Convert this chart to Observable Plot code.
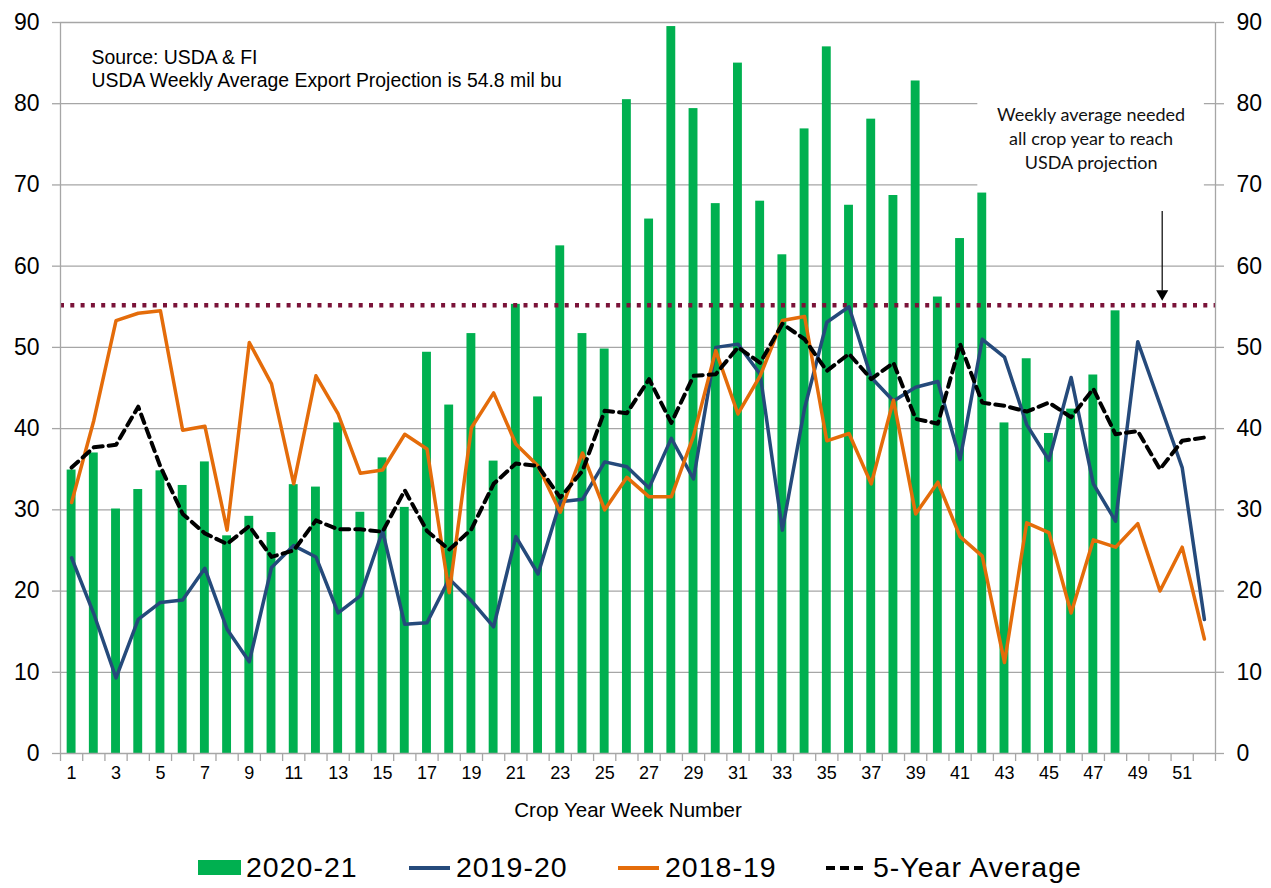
<!DOCTYPE html>
<html>
<head>
<meta charset="utf-8">
<script src="https://cdn.jsdelivr.net/npm/d3@7"></script>
<script src="https://cdn.jsdelivr.net/npm/@observablehq/plot@0.6"></script>
<style>
  body { margin: 0; background: #fff; font-family: "Liberation Sans", Arial, sans-serif; overflow: hidden; }
  #chart svg { display: block; }
  #legend { position: relative; height: 43px; width: 1271px; font-size: 28.5px; line-height: 1.1; letter-spacing: 1px; color: #000; }
  .item { position: absolute; top: 3px; height: 40px; display: flex; align-items: center; white-space: nowrap; }
  .item svg { display: block; margin-right: 5px; }
</style>
</head>
<body>
<div id="chart"></div>
<div id="legend"></div>
<script>
// ---- data ----
const weeks = d3.range(1, 53);
const exports2020_21 = [34.9, 37.0, 30.1, 32.5, 34.8, 33.0, 35.9, 26.8, 29.2, 27.2,
  33.1, 32.8, 40.7, 29.7, 36.4, 30.3, 49.4, 42.9, 51.7, 36.0,
  55.3, 43.9, 62.5, 51.7, 49.8, 80.5, 65.8, 89.5, 79.4, 67.7,
  85.0, 68.0, 61.4, 76.9, 87.0, 67.5, 78.1, 68.7, 82.8, 56.2,
  63.4, 69.0, 40.7, 48.6, 39.4, 42.4, 46.6, 54.5];
const exports2019_20 = [24.1, 17.2, 9.3, 16.5, 18.6, 18.9, 22.8, 15.3, 11.3, 22.9,
  25.6, 24.2, 17.3, 19.4, 27.4, 15.9, 16.1, 21.5, 18.8, 15.6,
  26.7, 22.1, 31.0, 31.3, 35.9, 35.3, 32.7, 38.8, 33.8, 50.0,
  50.4, 46.7, 27.5, 42.5, 53.1, 55.0, 46.3, 43.4, 45.1, 45.8,
  36.2, 51.0, 48.8, 40.5, 36.1, 46.3, 33.2, 28.6, 50.7, 43.0,
  35.2, 16.5];
const exports2018_19 = [30.9, 41.0, 53.3, 54.2, 54.5, 39.8, 40.3, 27.5, 50.6, 45.5,
  33.2, 46.5, 41.8, 34.5, 34.9, 39.3, 37.5, 19.8, 40.1, 44.4,
  38.1, 35.4, 29.7, 37.0, 30.0, 34.0, 31.6, 31.6, 39.1, 49.6,
  41.8, 46.5, 53.3, 53.8, 38.5, 39.4, 33.2, 43.5, 29.5, 33.4,
  26.7, 24.3, 11.2, 28.4, 27.2, 17.3, 26.3, 25.4, 28.3, 20.0,
  25.4, 14.1];
const fiveYearAvg = [35.2, 37.7, 38.0, 42.7, 35.3, 29.5, 27.1, 25.8, 28.0, 24.2,
  25.0, 28.7, 27.6, 27.6, 27.3, 32.4, 27.4, 25.1, 27.6, 33.2,
  35.7, 35.4, 31.5, 34.8, 42.2, 41.9, 46.1, 40.7, 46.5, 46.7,
  50.0, 48.1, 52.9, 51.0, 47.1, 49.2, 46.1, 48.1, 41.2, 40.6,
  50.4, 43.2, 42.8, 42.1, 43.2, 41.4, 44.9, 39.3, 39.7, 35.0,
  38.5, 38.9];
const usdaWeeklyNeeded = 55.2;
const yTicks = d3.range(0, 100, 10);
const weekTickLabels = d3.range(1, 53, 2);
const weekBoundaries = d3.range(0.5, 53, 1);
const sourceNote = "Source: USDA & FI\nUSDA Weekly Average Export Projection is 54.8 mil bu";
const neededNote = "Weekly average needed\nall crop year to reach\nUSDA projection";
const axisTitle = "Crop Year Week Number";
const seriesNames = ["2020-21", "2019-20", "2018-19", "5-Year Average"];

// ---- tables built from arrays ----
const bars = exports2020_21.map((v, i) => ({week: weeks[i], value: v}));
const rows = weeks.map((w, i) => ({week: w, y1920: exports2019_20[i], y1819: exports2018_19[i], avg: fiveYearAvg[i]}));
const noteBox = [{x1: 41.8, x2: 52.0, y1: 69.3, y2: 81.0}];
const arrowAnno = [{x: 50.1, from: 66.8, to: 57.0, tip: 56.6}];

const GREEN = "#00b050", BLUE = "#254a7b", ORANGE = "#e46c0a", MAROON = "#7a1339", GRID = "#a6a6a6";

const chart = Plot.plot({
  width: 1271,
  height: 845,
  marginLeft: 60,
  marginRight: 56,
  marginTop: 22,
  marginBottom: 92,
  x: {domain: [0.5, 52.5], axis: null},
  y: {domain: [0, 90], axis: null},
  style: {fontFamily: "'Liberation Sans', Arial, sans-serif", background: "#fff", color: "#000"},
  marks: [
    Plot.gridY(yTicks.filter(v => v > 0), {stroke: GRID, strokeOpacity: 1, strokeWidth: 1.3}),
    Plot.rect(noteBox, {x1: "x1", x2: "x2", y1: "y1", y2: "y2", fill: "white"}),
    Plot.text([neededNote], {x: () => 46.9, y: () => 75.85, textAnchor: "middle", lineAnchor: "middle",
      fontFamily: "Lato, 'Open Sans', sans-serif", fontSize: 18, lineHeight: 1.333, fill: "#111"}),
    Plot.text([sourceNote], {frameAnchor: "top-left", dx: 31, dy: 25, lineAnchor: "top",
      fontSize: 19.4, lineHeight: 23 / 19.4, fill: "#000"}),
    Plot.rectY(bars, {x1: d => d.week - 0.2, x2: d => d.week + 0.2, y: "value", fill: GREEN}),
    Plot.ruleY([usdaWeeklyNeeded], {stroke: MAROON, strokeWidth: 4.5, strokeDasharray: "4,6.3"}),
    Plot.lineY(rows, {x: "week", y: "y1920", stroke: BLUE, strokeWidth: 3.5}),
    Plot.lineY(rows, {x: "week", y: "y1819", stroke: ORANGE, strokeWidth: 3.5}),
    Plot.lineY(rows, {x: "week", y: "avg", stroke: "#000", strokeWidth: 4, strokeDasharray: "9,6"}),
    Plot.link(arrowAnno, {x1: "x", x2: "x", y1: "from", y2: "to", stroke: "#000", strokeWidth: 1.2}),
    Plot.dot(arrowAnno, {x: "x", y: "tip", symbol: "triangle", rotate: 180, r: 4.5, fill: "#000", stroke: "none"}),
    Plot.ruleY([0], {stroke: GRID, strokeWidth: 1.3}),
    Plot.ruleX([0.5, 52.5], {stroke: GRID, strokeWidth: 1.3}),
    Plot.axisY(yTicks, {anchor: "left", tickSize: 8, tickPadding: 13, fontSize: 23, stroke: GRID, strokeWidth: 1.3, fill: "#000", label: null}),
    Plot.axisY(yTicks, {anchor: "right", tickSize: 8, tickPadding: 13, fontSize: 23, stroke: GRID, strokeWidth: 1.3, fill: "#000", label: null}),
    Plot.axisX(weekBoundaries, {anchor: "bottom", tickSize: 8, tickFormat: () => "", stroke: GRID, strokeWidth: 1.3, label: null}),
    Plot.axisX(weekTickLabels, {anchor: "bottom", tickSize: 0, tickPadding: 13, fontSize: 18, fill: "#000", label: null}),
    Plot.text([axisTitle], {frameAnchor: "bottom", dx: -10, dy: 63, fontSize: 20.5, fill: "#000"})
  ]
});
document.getElementById("chart").appendChild(chart);

// ---- legend ----
const legend = d3.select("#legend");
const legendItems = [
  {name: seriesNames[0], left: 198, kind: "bar", color: GREEN},
  {name: seriesNames[1], left: 408, kind: "line", color: BLUE},
  {name: seriesNames[2], left: 617, kind: "line", color: ORANGE},
  {name: seriesNames[3], left: 825, kind: "dash", color: "#000"}
];
for (const it of legendItems) {
  const div = legend.append("div").attr("class", "item").style("left", it.left + "px");
  const sw = div.append("svg").attr("width", 43).attr("height", 20);
  if (it.kind === "bar") {
    sw.append("rect").attr("x", 0).attr("y", 2).attr("width", 43).attr("height", 15).attr("fill", it.color);
  } else {
    sw.append("line").attr("x1", 1).attr("x2", 42).attr("y1", 10).attr("y2", 10)
      .attr("stroke", it.color).attr("stroke-width", 4)
      .attr("stroke-dasharray", it.kind === "dash" ? "9,5" : null);
  }
  div.append("span").text(it.name);
}
</script>
</body>
</html>
